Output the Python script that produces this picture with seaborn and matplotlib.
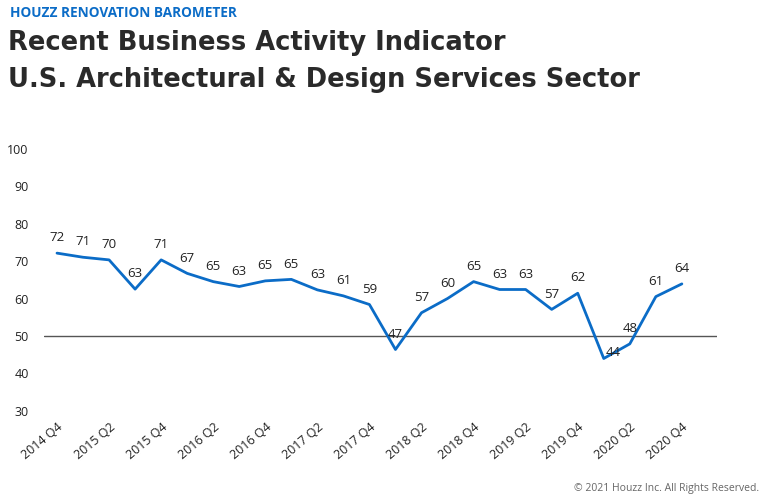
import numpy as np
import pandas as pd
import matplotlib.pyplot as plt
import seaborn as sns

quarters = ['2014 Q4', '2015 Q1', '2015 Q2', '2015 Q3', '2015 Q4', '2016 Q1', '2016 Q2',
            '2016 Q3', '2016 Q4', '2017 Q1', '2017 Q2', '2017 Q3', '2017 Q4', '2018 Q1',
            '2018 Q2', '2018 Q3', '2018 Q4', '2019 Q1', '2019 Q2', '2019 Q3', '2019 Q4',
            '2020 Q1', '2020 Q2', '2020 Q3', '2020 Q4']
values = [72.1, 71.0, 70.3, 62.5, 70.3, 66.7, 64.5, 63.2, 64.7, 65.1, 62.3, 60.7, 58.4,
          46.4, 56.2, 60.0, 64.5, 62.4, 62.4, 57.1, 61.4, 44.0, 47.9, 60.5, 63.9]
labels = [72, 71, 70, 63, 71, 67, 65, 63, 65, 65, 63, 61, 59, 47, 57, 60, 65, 63, 63, 57,
          62, 44, 48, 61, 64]
yticks = [30, 40, 50, 60, 70, 80, 90, 100]

blue = '#0B6CC7'
text_col = '#222222'

sns.set_style('white')
plt.rcParams['font.family'] = ['Open Sans', 'DejaVu Sans']

df = pd.DataFrame({'pos': np.arange(len(quarters)), 'quarter': quarters, 'value': values})

fig = plt.figure(figsize=(7.61, 4.98), dpi=100)
ax = fig.add_axes([0.0578, 0.1747, 0.8844, 0.5271])

ax.axhline(50, color='#555555', lw=1.0, zorder=1)
sns.lineplot(data=df, x='pos', y='value', ax=ax, color=blue, lw=2.0, zorder=3)

for i, (v, lab) in enumerate(zip(values, labels)):
    if lab == 44:
        ax.annotate(str(lab), (i, v), xytext=(7, 4), textcoords='offset points',
                    ha='center', va='center', fontsize=9.5, color=text_col, zorder=4)
    else:
        ax.annotate(str(lab), (i, v), xytext=(0, 11), textcoords='offset points',
                    ha='center', va='center', fontsize=9.5, color=text_col, zorder=4)

ax.set_xlim(-0.5, 25.35)
ax.set_ylim(30, 100)
ax.set_yticks(yticks)
ax.set_yticklabels([str(t) for t in yticks], fontsize=9, color=text_col)
ax.set_xticks(df['pos'][::2])
ax.set_xticklabels(df['quarter'][::2], rotation=40, ha='right', rotation_mode='anchor',
                   fontsize=9, color=text_col)
ax.tick_params(axis='x', length=0, pad=7)
ax.tick_params(axis='y', length=0, pad=11)
ax.set_xlabel('')
ax.set_ylabel('')
sns.despine(ax=ax, left=True, bottom=True)

fig.text(0.013, 0.974, 'HOUZZ RENOVATION BAROMETER', fontsize=9.8, fontweight='bold',
         color=blue, va='center', ha='left')
fig.text(0.011, 0.914, 'Recent Business Activity Indicator', fontsize=18.5, fontweight='bold',
         color='#2a2a2a', va='center', ha='left', family=['DejaVu Sans'])
fig.text(0.011, 0.840, 'U.S. Architectural & Design Services Sector', fontsize=18.5,
         fontweight='bold', color='#2a2a2a', va='center', ha='left', family=['DejaVu Sans'])
fig.text(0.998, 0.02, '\u00a9 2021 Houzz Inc. All Rights Reserved.', fontsize=7.5,
         color='#666666', ha='right', va='center')

fig.savefig('out.png', dpi=100)
